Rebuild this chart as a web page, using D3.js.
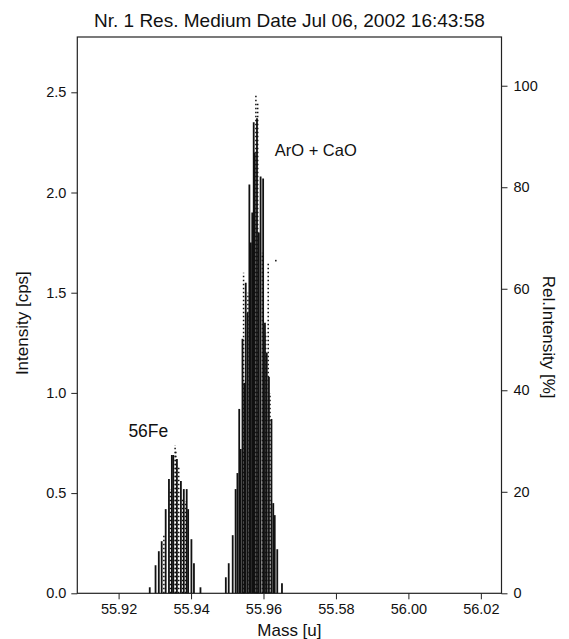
<!DOCTYPE html>
<html>
<head>
<meta charset="utf-8">
<script src="https://cdn.jsdelivr.net/npm/d3@7"></script>
<style>
  body { margin: 0; background: #fff; }
  svg { display: block; font-family: "Liberation Sans", Arial, sans-serif; }
</style>
</head>
<body>
<svg></svg>
<script>
const size = {w: 569, h: 639};
const frame = {l: 77.3, r: 501.5, t: 37, b: 593.3};
const fontSize = {title: 19, ticks: 14.5, labels: 17, fe: 17.5, aro: 16.5};

// scan lines (mass [u], intensity [cps])
const solidMass = [55.9286, 55.9302, 55.9311, 55.9319, 55.9330, 55.9339, 55.9347, 55.9351,
    55.9361, 55.9372, 55.9380, 55.9388, 55.9392, 55.9401, 55.9408, 55.9426,
    55.9496, 55.9504, 55.9515, 55.9523, 55.9528, 55.9533, 55.9537, 55.9542, 55.9547,
    55.9551, 55.9556, 55.9561, 55.9565, 55.9569, 55.9573, 55.9576, 55.9582, 55.9587,
    55.9592, 55.9599, 55.9604, 55.9609, 55.9615, 55.9622, 55.9627, 55.9631, 55.9638, 55.9651];
const solidInt = [0.03, 0.14, 0.21, 0.26, 0.42, 0.57, 0.69, 0.69,
    0.67, 0.56, 0.52, 0.52, 0.42, 0.27, 0.15, 0.03,
    0.08, 0.15, 0.29, 0.52, 0.60, 0.92, 0.72, 1.27, 1.05,
    1.55, 1.40, 2.04, 1.75, 1.90, 2.35, 2.20, 2.37, 1.80,
    2.08, 2.07, 1.35, 1.20, 1.08, 0.87, 0.45, 0.39, 0.22, 0.05];

// dotted (sparse) scans
const dotMass = [55.9325, 55.9343, 55.9356, 55.9358, 55.9366, 55.9377, 55.9385,
    55.9545, 55.9557, 55.9579, 55.9584, 55.9597, 55.9606, 55.9613, 55.9618];
const dotInt = [0.30, 0.52, 0.74, 0.71, 0.63, 0.47, 0.46,
    1.60, 1.50, 2.49, 2.45, 1.70, 1.30, 1.65, 1.00];

// isolated points
const strayMass = [55.9634];
const strayInt = [1.66];

const xTicks = [55.92, 55.94, 55.96, 55.98, 56.00, 56.02];
const xTickLabels = ['55.92', '55.94', '55.96', '55.58', '56.00', '56.02'];
const yTicks = [0, 0.5, 1.0, 1.5, 2.0, 2.5];
const relTicks = [0, 20, 40, 60, 80, 100];

const svg = d3.select('svg')
    .attr('width', size.w)
    .attr('height', size.h);

const x = d3.scaleLinear().domain([55.9086, 56.0257]).range([frame.l, frame.r]);
const y = d3.scaleLinear().domain([0, 2.776]).range([frame.b, frame.t]);
const yRel = d3.scaleLinear().domain([0, 109.6]).range([frame.b, frame.t]);

// title
svg.append('text')
    .attr('x', (frame.l + frame.r) / 2)
    .attr('y', 27)
    .attr('text-anchor', 'middle')
    .attr('font-size', fontSize.title)
    .attr('fill', '#111')
    .text('Nr. 1 Res. Medium Date Jul 06, 2002 16:43:58');

// frame
svg.append('rect')
    .attr('x', frame.l).attr('y', frame.t)
    .attr('width', frame.r - frame.l).attr('height', frame.b - frame.t)
    .attr('fill', 'none').attr('stroke', '#222').attr('stroke-width', 1.2);

// spectrum
const spec = svg.append('g').classed('spectrum', true);

spec.selectAll('line.solid')
    .data(d3.zip(solidMass, solidInt))
    .join('line')
    .classed('solid', true)
    .attr('x1', d => x(d[0])).attr('x2', d => x(d[0]))
    .attr('y1', y(0)).attr('y2', d => y(d[1]))
    .attr('stroke', '#111')
    .attr('stroke-width', 1.8);

spec.selectAll('line.dotted')
    .data(d3.zip(dotMass, dotInt))
    .join('line')
    .classed('dotted', true)
    .attr('x1', d => x(d[0])).attr('x2', d => x(d[0]))
    .attr('y1', y(0)).attr('y2', d => y(d[1]))
    .attr('stroke', '#111')
    .attr('stroke-width', 1.5)
    .attr('stroke-dasharray', '1.5,2.5');

spec.selectAll('rect.stray')
    .data(d3.zip(strayMass, strayInt))
    .join('rect')
    .classed('stray', true)
    .attr('x', d => x(d[0]) - 0.8).attr('y', d => y(d[1]) - 0.8)
    .attr('width', 1.6).attr('height', 1.6)
    .attr('fill', '#222');

// axes
const xAxis = svg.append('g')
    .attr('transform', `translate(0,${frame.b})`)
    .call(d3.axisBottom(x).tickValues(xTicks).tickSize(6).tickPadding(4)
        .tickFormat((d, i) => xTickLabels[i]));

const yAxis = svg.append('g')
    .attr('transform', `translate(${frame.l},0)`)
    .call(d3.axisLeft(y).tickValues(yTicks).tickSize(6).tickPadding(5)
        .tickFormat(d3.format('.1f')));

const rAxis = svg.append('g')
    .attr('transform', `translate(${frame.r},0)`)
    .call(d3.axisRight(yRel).tickValues(relTicks).tickSize(6).tickPadding(6)
        .tickFormat(d3.format('d')));

[xAxis, yAxis, rAxis].forEach(g => {
    g.select('.domain').remove();
    g.selectAll('line').attr('stroke', '#222');
    g.selectAll('text')
        .attr('font-size', fontSize.ticks)
        .attr('font-family', '"Liberation Sans", Arial, sans-serif')
        .attr('fill', '#111');
});

// axis labels
svg.append('text')
    .attr('x', (frame.l + frame.r) / 2)
    .attr('y', 636)
    .attr('text-anchor', 'middle')
    .attr('font-size', fontSize.labels)
    .attr('fill', '#111')
    .text('Mass [u]');

svg.append('text')
    .attr('transform', `translate(28,${(frame.t + frame.b) / 2 + 8}) rotate(-90)`)
    .attr('text-anchor', 'middle')
    .attr('font-size', fontSize.labels)
    .attr('fill', '#111')
    .text('Intensity [cps]');

svg.append('text')
    .attr('transform', `translate(543,${(frame.t + frame.b) / 2 + 22}) rotate(90)`)
    .attr('text-anchor', 'middle')
    .attr('font-size', fontSize.labels)
    .attr('fill', '#111')
    .text('Rel.Intensity [%]');

// peak notes
svg.append('text')
    .attr('x', x(55.9227)).attr('y', y(0.78))
    .attr('font-size', fontSize.fe)
    .attr('fill', '#111')
    .text('56Fe');

svg.append('text')
    .attr('x', x(55.9631)).attr('y', y(2.18))
    .attr('font-size', fontSize.aro)
    .attr('fill', '#111')
    .text('ArO + CaO');
</script>
</body>
</html>
